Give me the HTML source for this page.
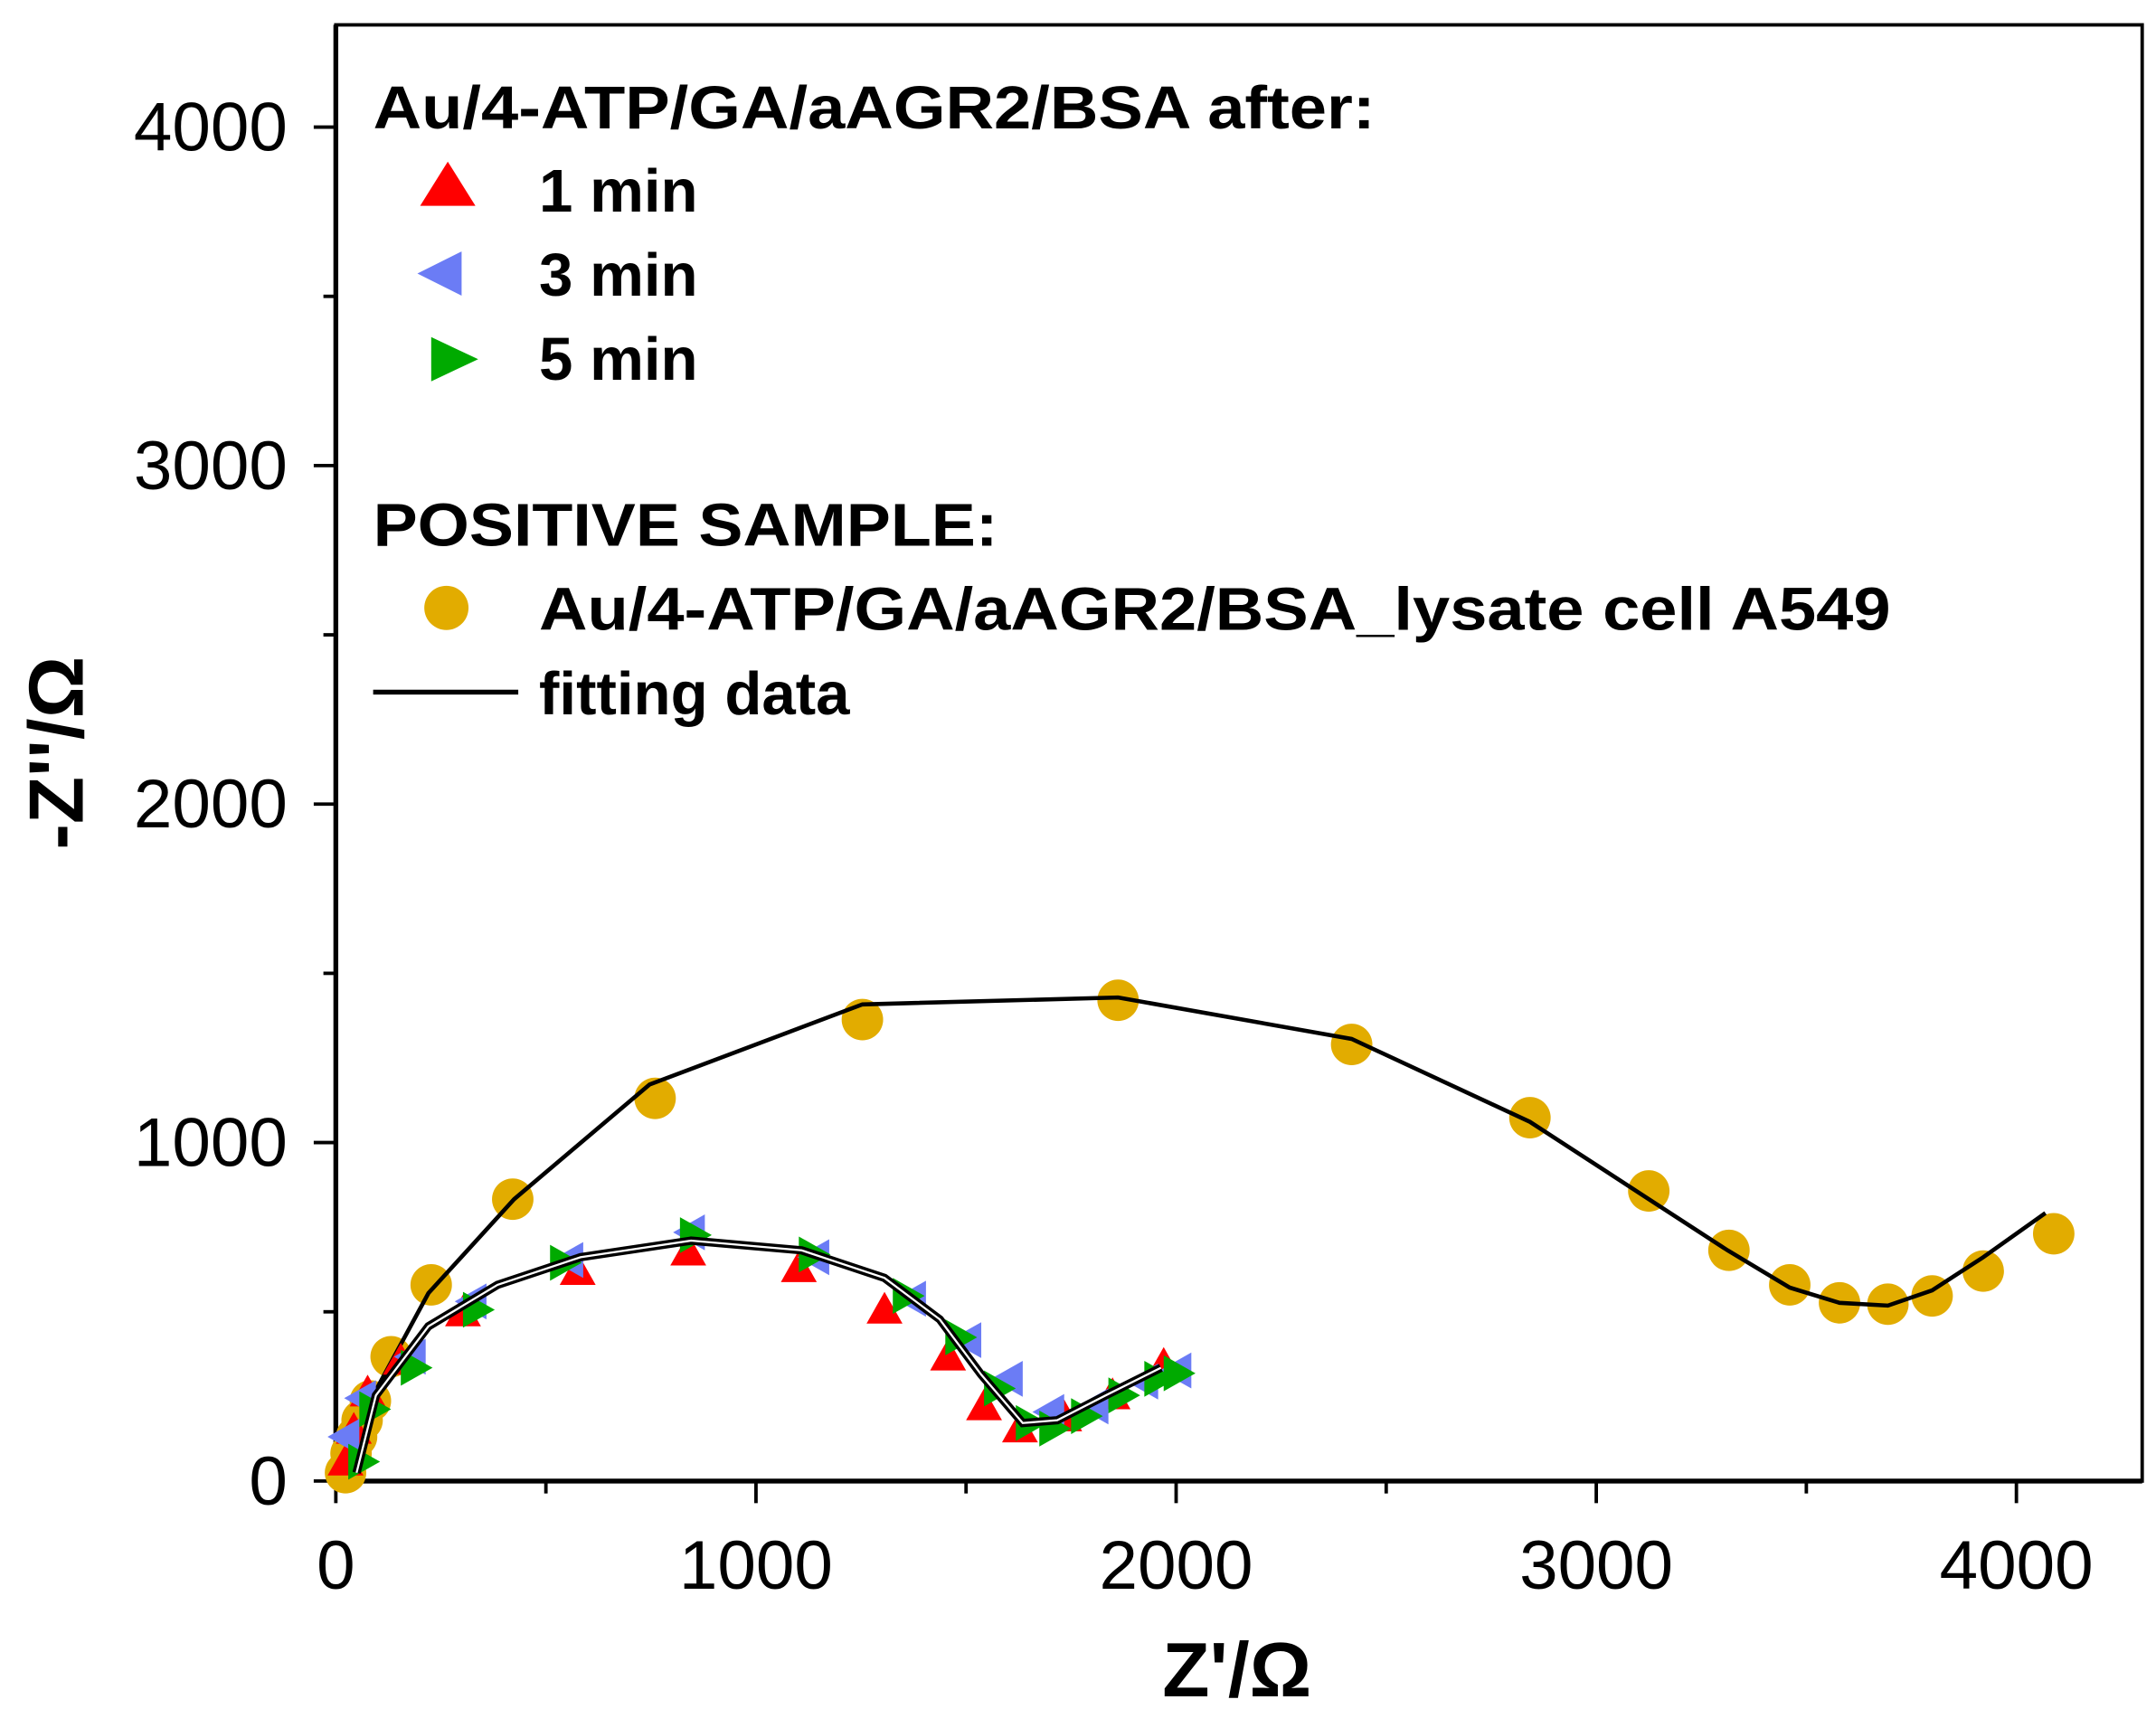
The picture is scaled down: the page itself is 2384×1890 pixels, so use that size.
<!DOCTYPE html>
<html><head><style>html,body{margin:0;padding:0;background:#fff}svg{display:block}</style></head>
<body>
<svg width="2384" height="1890" viewBox="0 0 1560 1237" preserveAspectRatio="none" xmlns="http://www.w3.org/2000/svg" font-family="Liberation Sans, Arial, sans-serif">
<defs>
<polygon id="tu" points="0,-13 -13,10 13,10"/>
<polygon id="tl" points="-13,0 10,-13 10,13"/>
<polygon id="tr" points="13,0 -10,-13 -10,13"/>
</defs>
<rect width="1560" height="1237" fill="#fff"/>
<rect x="243" y="18" width="1307" height="1054" fill="none" stroke="#000" stroke-width="2.5"/>
<line x1="243" y1="1072" x2="1550" y2="1072" stroke="#000" stroke-width="3.5"/>
<line x1="243" y1="18" x2="243" y2="1072" stroke="#000" stroke-width="3.5"/>
<g stroke="#000" stroke-width="2.5">
<line x1="243" y1="1072" x2="243" y2="1088"/><line x1="395" y1="1072" x2="395" y2="1081"/>
<line x1="547" y1="1072" x2="547" y2="1088"/><line x1="699" y1="1072" x2="699" y2="1081"/>
<line x1="851" y1="1072" x2="851" y2="1088"/><line x1="1003" y1="1072" x2="1003" y2="1081"/>
<line x1="1155" y1="1072" x2="1155" y2="1088"/><line x1="1307" y1="1072" x2="1307" y2="1081"/>
<line x1="1459" y1="1072" x2="1459" y2="1088"/>
<line x1="227" y1="1072" x2="243" y2="1072"/><line x1="234" y1="949.5" x2="243" y2="949.5"/>
<line x1="227" y1="827" x2="243" y2="827"/><line x1="234" y1="704.5" x2="243" y2="704.5"/>
<line x1="227" y1="582" x2="243" y2="582"/><line x1="234" y1="459.5" x2="243" y2="459.5"/>
<line x1="227" y1="337" x2="243" y2="337"/><line x1="234" y1="214.5" x2="243" y2="214.5"/>
<line x1="227" y1="92" x2="243" y2="92"/>
</g>
<g font-size="50" text-anchor="end" fill="#000">
<text x="208" y="1089">0</text><text x="208" y="844">1000</text><text x="208" y="599">2000</text>
<text x="208" y="354">3000</text><text x="208" y="109">4000</text>
</g>
<g font-size="50" text-anchor="middle" fill="#000">
<text x="243" y="1150">0</text><text x="547" y="1150">1000</text><text x="851" y="1150">2000</text>
<text x="1155" y="1150">3000</text><text x="1459" y="1150">4000</text>
</g>
<text x="895" y="1228" font-size="56" font-weight="bold" text-anchor="middle">Z'/Ω</text>
<text transform="translate(60,545) rotate(-90)" font-size="56" font-weight="bold" text-anchor="middle">-Z''/Ω</text>

<g font-size="44" font-weight="bold" fill="#000">
<text x="270" y="93" textLength="725" lengthAdjust="spacingAndGlyphs">Au/4-ATP/GA/aAGR2/BSA after:</text>
<text x="390" y="153">1 min</text>
<text x="390" y="214">3 min</text>
<text x="390" y="275">5 min</text>
<text x="270" y="395" textLength="452" lengthAdjust="spacingAndGlyphs">POSITIVE SAMPLE:</text>
<text x="390" y="456" textLength="978" lengthAdjust="spacingAndGlyphs">Au/4-ATP/GA/aAGR2/BSA_lysate cell A549</text>
<text x="390" y="517">fitting data</text>
</g>
<polygon points="324,117 304,149 344,149" fill="#f00"/>
<polygon points="302,198 334,182 334,214" fill="#6b7cf5"/>
<polygon points="312,244 346,260 312,276" fill="#00aa00"/>
<circle cx="323" cy="440" r="16" fill="#e2ac00"/>
<line x1="270" y1="501" x2="375" y2="501" stroke="#000" stroke-width="3.5"/>

<g fill="#e2ac00">
<circle cx="250" cy="1066" r="15"/><circle cx="254" cy="1052" r="15"/><circle cx="258" cy="1040" r="15"/>
<circle cx="262" cy="1028" r="15"/><circle cx="268" cy="1014" r="15"/><circle cx="283" cy="982" r="15"/>
<circle cx="312" cy="930" r="15"/><circle cx="371" cy="868" r="15"/><circle cx="474" cy="795" r="15"/>
<circle cx="624" cy="738" r="15"/><circle cx="809" cy="724" r="15"/><circle cx="978" cy="756" r="15"/>
<circle cx="1107" cy="809" r="15"/><circle cx="1193" cy="862" r="15"/><circle cx="1251" cy="905" r="15"/>
<circle cx="1295" cy="930" r="15"/><circle cx="1331" cy="943" r="15"/><circle cx="1366" cy="944" r="15"/>
<circle cx="1398" cy="938" r="15"/><circle cx="1435" cy="920" r="15"/><circle cx="1486" cy="893" r="15"/>
</g>
<polyline fill="none" stroke="#000" stroke-width="3" points="258,1066 270,1010 310,936 372,868 470,785 624,727 809,722 978,752 1107,812 1190,866 1250,905 1295,932 1331,943 1366,945 1398,934 1435,910 1480,878"/>

<g fill="#f00">
<use href="#tu" x="250" y="1058"/><use href="#tu" x="256" y="1035"/><use href="#tu" x="266" y="1008"/>
<use href="#tu" x="290" y="985"/><use href="#tu" x="335" y="950"/><use href="#tu" x="418" y="920"/>
<use href="#tu" x="498" y="906"/><use href="#tu" x="578" y="918"/><use href="#tu" x="640" y="948"/>
<use href="#tu" x="686" y="982"/><use href="#tu" x="712" y="1018"/><use href="#tu" x="738" y="1034"/>
<use href="#tu" x="770" y="1026"/><use href="#tu" x="805" y="1010"/><use href="#tu" x="842" y="988"/>
</g>
<g fill="#6b7cf5">
<use href="#tl" x="250" y="1040"/><use href="#tl" x="262" y="1012"/><use href="#tl" x="298" y="982"/>
<use href="#tl" x="342" y="942"/><use href="#tl" x="412" y="912"/><use href="#tl" x="500" y="892"/>
<use href="#tl" x="590" y="910"/><use href="#tl" x="660" y="940"/><use href="#tl" x="700" y="970"/>
<use href="#tl" x="730" y="998"/><use href="#tl" x="760" y="1022"/><use href="#tl" x="792" y="1018"/>
<use href="#tl" x="828" y="1000"/><use href="#tl" x="852" y="992"/>
</g>
<g fill="#00aa00">
<use href="#tr" x="262" y="1058"/><use href="#tr" x="270" y="1020"/><use href="#tr" x="300" y="990"/>
<use href="#tr" x="345" y="948"/><use href="#tr" x="408" y="914"/><use href="#tr" x="502" y="894"/>
<use href="#tr" x="588" y="908"/><use href="#tr" x="656" y="938"/><use href="#tr" x="694" y="968"/>
<use href="#tr" x="722" y="1005"/><use href="#tr" x="745" y="1030"/><use href="#tr" x="762" y="1034"/>
<use href="#tr" x="785" y="1025"/><use href="#tr" x="812" y="1010"/><use href="#tr" x="838" y="998"/>
<use href="#tr" x="852" y="994"/>
</g>
<polyline fill="none" stroke="#000" stroke-width="6" points="258,1066 272,1010 310,960 360,930 420,910 500,898 580,905 640,925 680,955 710,995 740,1030 765,1028 800,1010 840,990"/>
<polyline fill="none" stroke="#fff" stroke-width="1.5" points="258,1066 272,1010 310,960 360,930 420,910 500,898 580,905 640,925 680,955 710,995 740,1030 765,1028 800,1010 840,990"/>
</svg>
</body></html>
